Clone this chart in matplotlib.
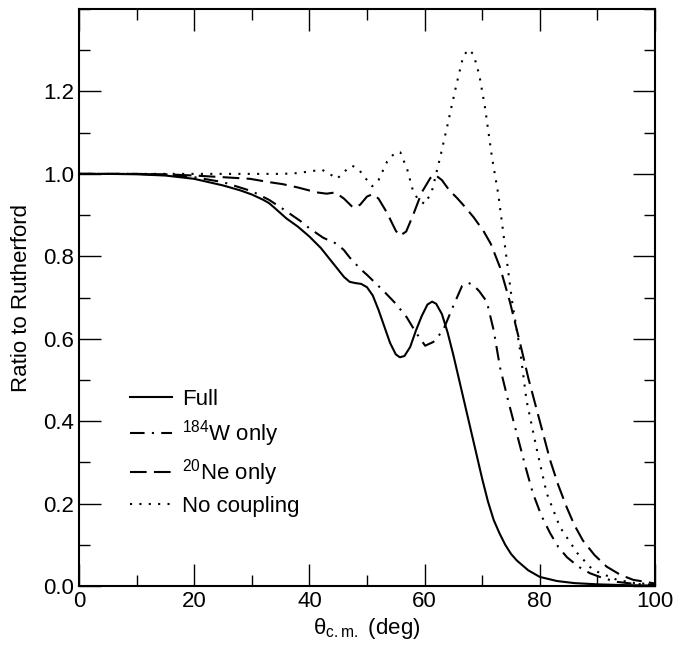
import matplotlib
matplotlib.use("Agg")
import matplotlib.pyplot as plt
from matplotlib.ticker import MultipleLocator

plt.rcParams["font.family"] = ["Liberation Sans", "DejaVu Sans"]
plt.rcParams["mathtext.fontset"] = "custom"
plt.rcParams["mathtext.rm"] = "Liberation Sans"
plt.rcParams["mathtext.default"] = "regular"

# Full coupling
full_x = [0, 5, 10, 15, 20, 25, 28, 30, 32, 33, 34, 36, 38, 40, 42, 44, 46, 47, 48, 49,
          50, 51, 52, 53, 54, 55, 55.7, 56.5, 57.5, 58.5, 59.5, 60.5, 61.3, 62, 63, 64,
          65, 66, 67, 68, 69, 70, 71, 72, 73, 74, 75, 76, 78, 80, 83, 86, 90, 95, 100]
full_y = [1.000, 1.000, 0.999, 0.996, 0.988, 0.972, 0.960, 0.950, 0.937, 0.929, 0.917,
          0.892, 0.872, 0.848, 0.820, 0.785, 0.750, 0.738, 0.735, 0.733, 0.725, 0.705,
          0.670, 0.630, 0.590, 0.562, 0.555, 0.558, 0.580, 0.620, 0.655, 0.683, 0.690,
          0.685, 0.660, 0.615, 0.560, 0.500, 0.440, 0.380, 0.320, 0.260, 0.205, 0.160,
          0.128, 0.100, 0.078, 0.062, 0.038, 0.022, 0.012, 0.007, 0.004, 0.002, 0.001]

# 184W only
w_x = [0, 10, 15, 20, 25, 30, 33, 35.4, 38.4, 40, 42.4, 44.8, 46, 47, 48.8, 50, 52.8,
       55, 56.9, 58.5, 60.1, 61.5, 63.2, 65, 66.5, 67.5, 68.5, 69.5, 70.8, 72, 73.1,
       74.5, 76, 77.5, 78.8, 80.3, 81.8, 83.2, 84.7, 86.7, 88.7, 91, 93.4, 96.5, 100]
w_y = [1.000, 1.000, 0.998, 0.992, 0.980, 0.958, 0.937, 0.915, 0.886, 0.868, 0.845,
       0.830, 0.815, 0.797, 0.770, 0.755, 0.717, 0.685, 0.652, 0.615, 0.583, 0.592,
       0.620, 0.680, 0.728, 0.736, 0.730, 0.715, 0.690, 0.620, 0.530, 0.450, 0.370,
       0.290, 0.225, 0.170, 0.128, 0.095, 0.070, 0.047, 0.031, 0.019, 0.010, 0.005, 0.003]

# 20Ne only
ne_x = [0, 10, 15, 20, 25, 29.7, 33, 35.4, 38, 41.3, 43, 44.5, 46, 47.6, 48.8, 50, 51,
        52, 53.5, 55, 55.7, 56.8, 58, 59.5, 61, 61.8, 63, 64.3, 65.6, 67, 68.5, 70.2,
        71.5, 73.1, 74.8, 76.6, 78, 79.5, 81.8, 83.2, 84.7, 86, 87.5, 89.5, 91.6, 94,
        96.2, 100]
ne_y = [1.000, 1.000, 0.999, 0.996, 0.992, 0.988, 0.980, 0.975, 0.967, 0.955, 0.952,
        0.955, 0.940, 0.918, 0.925, 0.945, 0.951, 0.940, 0.905, 0.862, 0.850, 0.860,
        0.900, 0.955, 0.990, 0.998, 0.985, 0.960, 0.942, 0.920, 0.895, 0.862, 0.830,
        0.773, 0.690, 0.588, 0.505, 0.426, 0.305, 0.245, 0.190, 0.148, 0.110, 0.075,
        0.047, 0.027, 0.015, 0.006]

# No coupling
nc_x = [0, 10, 20, 25, 29.7, 35.4, 38, 40, 42.2, 43.5, 44.8, 46, 47.4, 48.5, 50, 50.9,
        52, 53.5, 54.9, 55.8, 57, 58, 59, 60.1, 61.3, 62.7, 64, 65.5, 66.7, 67.6, 68.5,
        69.5, 70.5, 71.7, 72.8, 74, 75.2, 76.6, 77.7, 79.5, 81.2, 83.5, 86.5, 89.2,
        93.4, 96.5, 100]
nc_y = [1.000, 1.000, 1.000, 1.000, 1.000, 1.000, 1.002, 1.006, 1.010, 1.000, 0.988,
        1.005, 1.020, 1.012, 0.985, 0.970, 0.985, 1.030, 1.052, 1.052, 1.010, 0.958,
        0.935, 0.927, 0.960, 1.040, 1.120, 1.215, 1.285, 1.302, 1.290, 1.240, 1.160,
        1.040, 0.950, 0.820, 0.690, 0.570, 0.450, 0.330, 0.225, 0.143, 0.080, 0.039,
        0.015, 0.007, 0.004]

fig = plt.figure(figsize=(6.91, 6.46), dpi=100)
ax = fig.add_axes([0.1143, 0.0929, 0.8336, 0.8931])

lw = 1.5
ax.plot(full_x, full_y, color="black", lw=lw, label="Full")
ax.plot(w_x, w_y, color="black", lw=lw, dashes=(7, 3.5, 1, 3.5), label="$^{184}$W only")
ax.plot(ne_x, ne_y, color="black", lw=lw, dashes=(8, 3.5), label="$^{20}$Ne only")
ax.plot(nc_x, nc_y, color="black", lw=lw, dashes=(1, 3.5), label="No coupling")

ax.set_xlim(0, 100)
ax.set_ylim(0, 1.4)
ax.xaxis.set_major_locator(MultipleLocator(20))
ax.xaxis.set_minor_locator(MultipleLocator(10))
ax.yaxis.set_minor_locator(MultipleLocator(0.1))
ax.set_yticks([0.0, 0.2, 0.4, 0.6, 0.8, 1.0, 1.2])
ax.yaxis.set_major_formatter(plt.FormatStrFormatter("%.1f"))

ax.tick_params(which="both", direction="in", top=True, right=True, labelsize=16)
ax.tick_params(which="major", length=16, width=1)
ax.tick_params(which="minor", length=8, width=1)
for sp in ax.spines.values():
    sp.set_linewidth(1.5)

ax.set_xlabel(r"$\theta_{c.m.}$ (deg)", fontsize=16, labelpad=3)
ax.set_ylabel("Ratio to Rutherford", fontsize=16, labelpad=8)

ax.legend(loc="lower left", bbox_to_anchor=(0.053, 0.085), frameon=False, fontsize=16,
          handlelength=1.9, handletextpad=0.45, labelspacing=0.36)

fig.savefig("out.png", dpi=100)
